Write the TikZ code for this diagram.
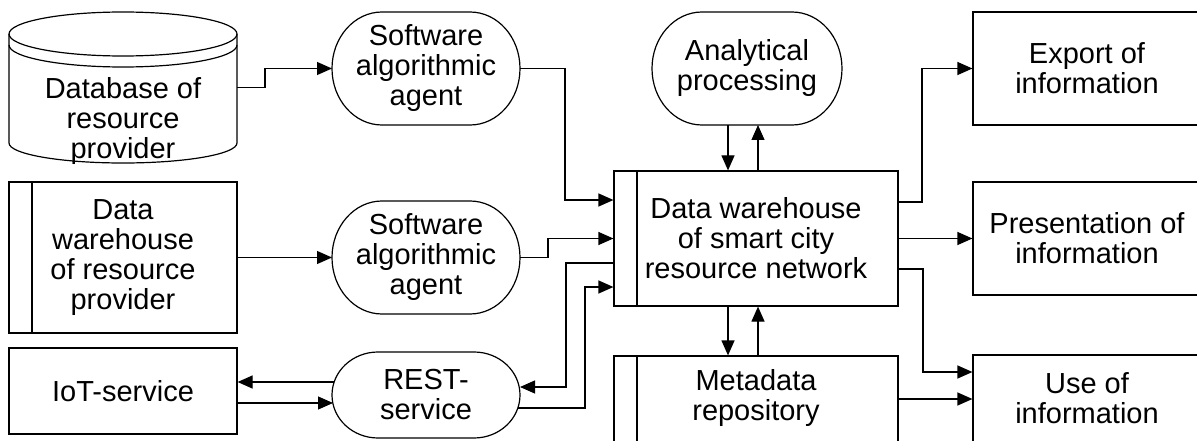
\documentclass[tikz,border=0pt]{standalone}
\usepackage{fontspec}
\setmainfont{Liberation Sans}
\usetikzlibrary{arrows.meta,calc}
\tikzset{
  ln/.style={line width=1.2pt, draw=black},
  arr/.style={ln, -{Triangle[length=15pt,width=13pt]}},
  txt/.style={font=\fontsize{29}{30}\selectfont, align=center, inner sep=0pt},
  shp/.style={txt, outer sep=0pt},
  boxn/.style={txt, ln},
  bar/.style={path picture={\draw[ln] ([xshift=23pt]path picture bounding box.north west) -- ([xshift=23pt]path picture bounding box.south west);}}
}
\newcommand\drawstadium[3]{%
  \draw[ln] ([xshift=#2pt]#1.north west) -- ([xshift=-#2pt]#1.north east)
    arc[start angle=90,end angle=-90,x radius=#2pt,y radius=#3pt]
    -- ([xshift=#2pt]#1.south west)
    arc[start angle=270,end angle=90,x radius=#2pt,y radius=#3pt] -- cycle;}
\begin{document}
\begin{tikzpicture}[x=1pt,y=-1pt]
\useasboundingbox (0,0) rectangle (1197,441);
\clip (0,0) rectangle (1197,441);

% database cylinder
\node[shp, minimum width=228pt, minimum height=151pt] (db) at (123,87.5) {};
\draw[ln] (123,34) ellipse [x radius=114pt, y radius=22pt];
\draw[ln] (9,45) arc[start angle=180,end angle=360,x radius=114pt,y radius=22pt];
\draw[ln] (9,34) -- (9,143) arc[start angle=180,end angle=360,x radius=114pt,y radius=20pt] -- (237,34);
\node[txt] (dbt) at (123,121) {Database of\\resource\\provider};

% stadium nodes
\node[shp, minimum width=188pt, minimum height=113pt] (ag1) at (426,68.5) {Software\\algorithmic\\agent};
\drawstadium{ag1}{50}{56.5}
\node[shp, minimum width=190pt, minimum height=113pt] (an) at (747,68.5) {Analytical\\processing};
\drawstadium{an}{50}{56.5}
\node[shp, minimum width=188pt, minimum height=113pt] (ag2) at (426,257.5) {Software\\algorithmic\\agent};
\drawstadium{ag2}{50}{56.5}
\node[shp, minimum width=188pt, minimum height=86pt] (rest) at (426,395) {REST-\\service};
\drawstadium{rest}{46}{43}

% boxes
\node[boxn, bar, minimum width=284pt, minimum height=135pt] (dw) at (756,238.5) {Data warehouse\\of smart city\\resource network};
\node[boxn, bar, minimum width=228pt, minimum height=151pt] (dwp) at (123,257.5) {Data\\warehouse\\of resource\\provider};
\node[boxn, minimum width=228pt, minimum height=86pt] (iot) at (123,391) {IoT-service};
\node[boxn, bar, minimum width=284pt, minimum height=100pt,
  label={[txt,yshift=8.5pt]center:Metadata\\repository}] (meta) at (756,406) {};
\node[boxn, minimum width=228pt, minimum height=113pt] (exp) at (1087,68.5) {Export of\\information};
\node[boxn, minimum width=228pt, minimum height=113pt] (pres) at (1087,238.5) {Presentation of\\information};
\node[boxn, minimum width=228pt, minimum height=100pt,
  label={[txt,yshift=7pt]center:Use of\\information}] (use) at (1087,405) {};

% connectors
\draw[arr] (db.east) -- ++(28,0) |- (ag1.west);
\draw[arr] (ag1.east) -| (565,200) -- (dw.west |- 0,200);
\draw[arr] (dwp.east) -- (ag2.west);
\draw[arr] (ag2.east) -- (548,257.5) |- (dw.west);
\draw[arr] (dw.west |- 0,263) -| (566,387) -- (rest.east |- 0,387);
\draw[arr] ([xshift=-2pt,yshift=-13pt]rest.east) -| (585,287) -- (dw.west |- 0,287);
\draw[arr] ([xshift=2pt,yshift=13pt]rest.west) -- (iot.east |- 0,382);
\draw[arr] (iot.east |- 0,403) -- ([xshift=1pt,yshift=-8pt]rest.west);
\draw[arr] (an.south -| 728,0) -- (dw.north -| 728,0);
\draw[arr] (dw.north -| 758,0) -- (an.south -| 758,0);
\draw[arr] (dw.south -| 728,0) -- (meta.north -| 728,0);
\draw[arr] (meta.north -| 758,0) -- (dw.south -| 758,0);
\draw[arr] (dw.east |- 0,202) -- (922,202) |- (exp.west);
\draw[arr] (dw.east) -- (pres.west);
\draw[arr] (dw.east |- 0,269) -- (923,269) |- (use.west |- 0,372);
\draw[arr] (meta.east |- 0,399) -- (use.west |- 0,399);
\end{tikzpicture}
\end{document}
